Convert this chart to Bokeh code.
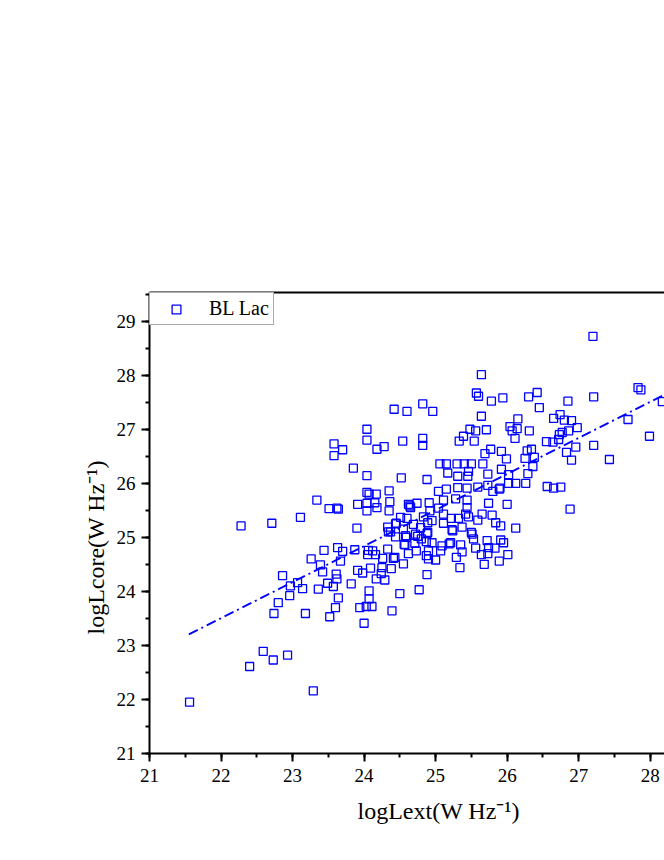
import numpy as np
from bokeh.plotting import figure
from bokeh.models import (LinearAxis, SingleIntervalTicker, FixedTicker, Title,
                          Legend, LegendItem, Range1d, ColumnDataSource)
from bokeh.embed import file_html
from bokeh.resources import INLINE

# ---- data: logLext (x) and logLcore (y), W Hz^-1, BL Lac sample ----
log_lext = [
    21.56, 22.40, 22.59, 22.73, 22.93, 23.29, 22.28, 22.71, 23.11, 22.86,
    22.97, 23.07, 23.14, 22.96, 22.80, 22.74, 23.18, 23.26,
    23.34, 23.51, 23.62, 23.64, 23.39, 23.42, 23.44, 23.36, 23.49, 23.57,
    23.61, 23.62, 23.63, 23.67, 23.70, 23.64, 23.60, 23.52, 23.82, 23.87,
    23.91, 23.94, 24.00, 24.03, 24.07, 24.07, 24.11, 23.98, 24.05, 24.09,
    24.12, 24.16, 24.17, 24.24, 24.26, 24.29, 24.33, 24.38, 24.43, 24.39,
    24.50, 23.90, 23.91, 24.06, 24.25, 24.41,
    23.58, 23.70, 23.58, 24.04, 24.04, 24.18, 24.28, 23.85, 24.04, 24.42,
    24.04, 24.07, 24.17, 24.04, 24.15, 24.18, 24.04, 24.35, 24.36, 24.35,
    24.33, 24.44, 24.44, 24.34,
    24.60, 24.82, 24.96, 24.54, 24.82, 24.82, 24.52, 24.88, 24.91, 24.92,
    24.95, 24.89, 24.89, 24.95, 24.90, 24.90, 24.88, 24.77, 24.62, 24.74,
    24.65, 24.51, 24.60, 24.69, 24.55, 24.57, 24.72, 24.79, 24.80, 24.71,
    24.59, 24.62, 24.73, 24.87, 24.55, 24.58, 24.75, 24.88, 24.87, 24.83,
    24.64, 24.56, 24.37, 24.45,
    25.06, 25.15, 25.30, 25.40, 25.50, 25.66, 25.17, 25.31, 25.45, 25.46,
    25.33, 25.39, 25.48, 25.04, 25.15, 25.31, 25.44, 25.11, 25.28, 25.44,
    25.44, 25.42, 25.04, 25.11, 25.11, 25.22, 25.32, 25.23, 25.37, 25.46,
    25.07, 25.21, 25.35, 25.37, 25.29, 25.00, 25.34, 25.09, 25.19, 25.24,
    25.64, 25.57, 25.60, 25.78, 25.94, 25.64, 25.56, 25.71, 25.54, 26.04,
    26.15, 26.14, 26.07, 26.11, 25.69, 25.77, 25.92, 25.99, 25.73, 25.92,
    26.02, 25.59, 25.73, 25.80, 25.90, 26.02, 26.12, 25.74, 26.00, 25.65,
    25.79, 25.59, 25.84, 25.91, 26.12, 25.51, 25.53, 25.72, 25.91, 25.95,
    25.56, 25.74, 25.83, 26.01, 25.64, 25.73, 25.89, 25.68, 25.50, 25.89,
    27.20, 26.30, 26.42, 26.45, 26.85, 27.21, 27.83, 27.87, 28.17, 27.69,
    27.99, 27.21, 27.43, 26.31, 26.65, 26.74, 26.80, 26.90, 26.98, 26.86,
    26.77, 26.73, 26.72, 26.55, 26.64, 26.96, 26.83, 26.90, 26.28, 26.34,
    26.25, 26.38, 26.36, 26.29, 26.26, 26.56, 26.65, 26.75, 26.88,
]
log_lcore = [
    21.95, 22.61, 22.89, 22.73, 22.82, 22.16, 25.21, 25.26, 25.37, 24.29,
    24.10, 24.16, 24.05, 23.92, 23.79, 23.59, 23.59, 24.60,
    25.69, 25.53, 25.54, 25.52, 24.49, 24.36, 24.76, 24.04, 24.15, 24.09,
    24.32, 24.23, 24.81, 24.56, 24.74, 23.88, 23.70, 23.53, 24.14, 24.77,
    24.39, 23.70, 23.41, 23.72, 23.86, 24.01, 23.72, 24.34, 24.68, 24.43,
    24.75, 24.68, 24.23, 24.33, 24.61, 24.21, 24.78, 24.42, 24.63, 23.64,
    23.96, 25.17, 25.61, 24.76, 24.44, 24.61,
    26.73, 26.62, 26.51, 27.00, 26.80, 26.63, 26.68, 26.28, 26.14, 27.37,
    25.83, 25.80, 25.80, 25.63, 25.64, 25.55, 25.49, 25.86, 25.66, 25.49,
    25.19, 25.25, 25.01, 25.10,
    27.33, 27.47, 27.33, 26.78, 26.83, 26.70, 26.10, 26.07, 25.64, 25.49,
    25.31, 25.27, 25.09, 24.90, 24.75, 24.60, 24.31, 24.03, 25.61, 25.63,
    25.55, 25.37, 25.35, 25.24, 25.15, 24.86, 25.06, 25.18, 24.97, 24.89,
    25.00, 24.70, 24.75, 24.66, 24.51, 25.03, 25.02, 25.07, 24.92, 25.38,
    25.58, 24.87, 25.10, 25.26,
    26.36, 26.36, 26.36, 26.36, 26.36, 26.36, 26.19, 26.13, 26.13, 26.22,
    26.78, 26.87, 27.00, 25.85, 25.89, 25.92, 25.91, 25.69, 25.71, 25.69,
    25.55, 25.43, 25.54, 25.43, 25.26, 25.35, 25.35, 25.14, 25.19, 25.38,
    24.75, 24.90, 24.86, 24.73, 24.63, 24.58, 24.44, 24.84, 24.88, 25.12,
    28.01, 27.67, 27.61, 27.52, 27.58, 27.24, 26.97, 26.99, 26.78, 27.05,
    27.19, 27.01, 26.97, 26.83, 26.55, 26.63, 26.59, 26.45, 26.17, 26.26,
    26.16, 25.93, 25.96, 25.85, 25.91, 26.00, 26.00, 25.63, 25.61, 25.43,
    25.41, 25.32, 25.27, 25.21, 25.17, 25.06, 24.97, 24.94, 24.95, 24.90,
    24.80, 24.81, 24.80, 24.68, 24.68, 24.70, 24.56, 24.50, 25.09, 25.89,
    28.72, 27.60, 27.68, 27.40, 27.52, 27.60, 27.77, 27.73, 27.51, 27.18,
    26.87, 26.70, 26.44, 26.97, 27.20, 27.27, 27.17, 27.16, 27.03, 26.97,
    26.94, 26.90, 26.81, 26.77, 26.76, 26.67, 26.57, 26.43, 26.60, 26.63,
    26.46, 26.48, 26.31, 26.18, 26.00, 25.94, 25.91, 25.93, 25.52,
]
series_name = "BL Lac"

# linear fit  logLcore = fit_slope * logLext + fit_intercept
fit_slope = 0.667
fit_intercept = 8.83
fit_x_range = [21.55, 28.6]

x_ticks_interval = 1
y_ticks_interval = 1
x_label = "logLext(W Hz\u207b\u00b9)"
y_label = "logLcore(W Hz\u207b\u00b9)"

# ---- figure ----
BLUE = "#0000FF"
FONT = "Liberation Serif"

p = figure(width=664, height=848,
           x_range=Range1d(21, 28.2), y_range=Range1d(21, 29.53),
           output_backend="svg", toolbar_location=None,
           x_axis_location=None, y_axis_location=None,
           min_border_left=149, min_border_top=292,
           min_border_right=0, min_border_bottom=95)
p.xgrid.visible = False
p.ygrid.visible = False
p.outline_line_color = None
p.background_fill_color = "white"
p.border_fill_color = "white"


def style_axis(ax):
    ax.axis_line_color = "black"
    ax.axis_line_width = 2
    ax.major_tick_in = 0
    ax.major_tick_out = 8
    ax.minor_tick_in = 0
    ax.minor_tick_out = 4
    ax.major_tick_line_width = 2
    ax.minor_tick_line_width = 2
    ax.major_tick_line_color = "black"
    ax.minor_tick_line_color = "black"
    ax.major_label_text_font = FONT
    ax.major_label_text_font_size = "19px"
    ax.major_label_text_color = "black"


xa = LinearAxis(ticker=SingleIntervalTicker(interval=x_ticks_interval, num_minor_ticks=2))
style_axis(xa)
xa.major_label_standoff = 7
p.add_layout(xa, "below")

ya = LinearAxis(ticker=SingleIntervalTicker(interval=y_ticks_interval, num_minor_ticks=2))
style_axis(ya)
ya.major_label_standoff = 6
p.add_layout(ya, "left")

# top frame line (no ticks, no labels)
top = LinearAxis(ticker=FixedTicker(ticks=[]))
top.axis_line_width = 2
top.axis_line_color = "black"
top.major_tick_line_color = None
top.minor_tick_line_color = None
p.add_layout(top, "above")

p.add_layout(Title(text=x_label, align="left", offset=208, standoff=23,
                   text_font=FONT, text_font_size="24px",
                   text_font_style="normal", text_color="black"), "below")
p.add_layout(Title(text=y_label, align="left", offset=119, text_font=FONT,
                   text_font_size="24px", text_font_style="normal",
                   text_color="black"), "left")

# fit line
fx = np.array(fit_x_range)
fy = fit_slope * fx + fit_intercept
p.line(fx, fy, line_color=BLUE, line_width=1.8, line_dash="10 4 2 4")

src = ColumnDataSource(dict(x=log_lext, y=log_lcore))
sc = p.scatter("x", "y", source=src, marker="square", size=8,
               fill_color=None, line_color=BLUE, line_width=1.3)

legend = Legend(items=[LegendItem(label=series_name, renderers=[sc])],
                location="top_left", margin=0, padding=4, spacing=0,
                glyph_width=44, glyph_height=22, label_height=22,
                label_standoff=11, label_text_font=FONT,
                label_text_font_size="20px", label_text_color="black",
                border_line_color="#555555", border_line_width=1,
                background_fill_color="white", background_fill_alpha=1)
p.add_layout(legend)

open("out.html", "w").write(file_html(p, INLINE))
